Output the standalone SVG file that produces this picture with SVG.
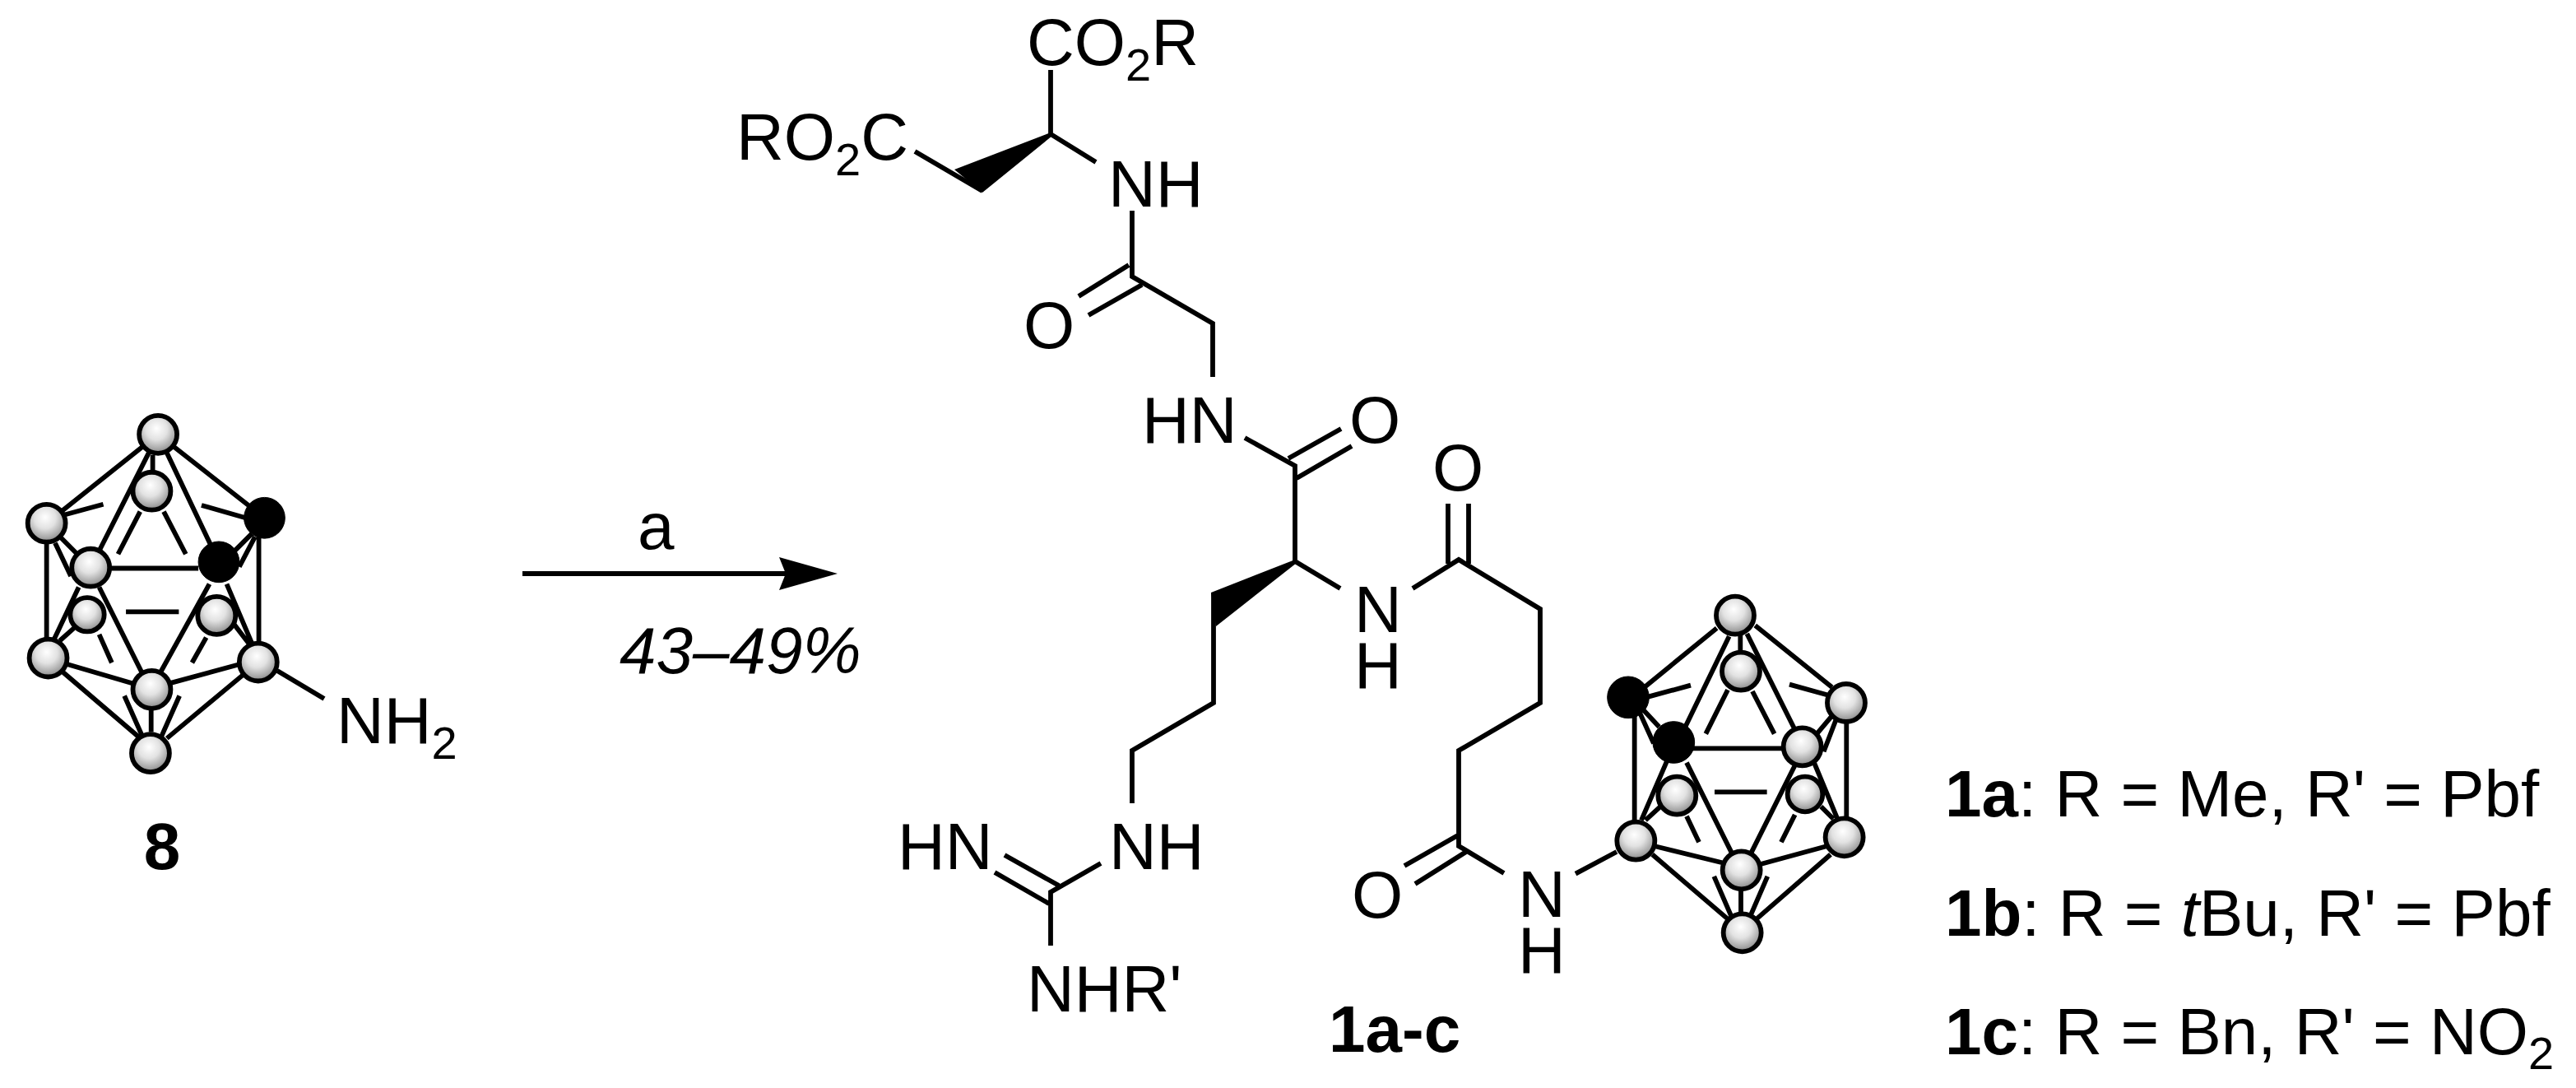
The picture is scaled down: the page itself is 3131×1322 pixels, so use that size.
<svg xmlns="http://www.w3.org/2000/svg" width="3131" height="1322" viewBox="0 0 3131 1322">
<style>
text{font-family:"Liberation Sans",Arial,sans-serif;font-size:80px;fill:#000}
.s{font-size:56px}
.bd{font-weight:700}
.i{font-style:italic}
.b{stroke:#000;stroke-width:5.8;fill:none;vector-effect:non-scaling-stroke;stroke-miterlimit:10}
.g{fill:url(#ball);stroke:#000;stroke-width:5.8;vector-effect:non-scaling-stroke}
.k{fill:#000;stroke:#000;stroke-width:1;vector-effect:non-scaling-stroke}
</style>
<defs>
<radialGradient id="ball" cx=".46" cy=".38" r=".68" fx=".46" fy=".34">
<stop offset="0" stop-color="#fff"/><stop offset=".42" stop-color="#e2e2e2"/><stop offset=".78" stop-color="#a2a2a2"/><stop offset="1" stop-color="#5c5c5c"/>
</radialGradient>
</defs>
<rect width="3131" height="1322" fill="#fff"/>

<g id="compound-8">
<g transform="translate(0,480) scale(.3827)">
<path class="b" d="M205 380L328 347M640 350L780 390M445 370L375 505M520 370L590 505M400 688H568M315 760L355 850M655 770L610 850M395 955L455 1090M570 955L510 1090M485 190V250"/>
<circle class="g" cx="482" cy="305" r="60"/>
<circle class="g" cx="277" cy="697" r="54"/>
<circle class="g" cx="688" cy="700" r="60"/>
<path class="b" d="M502 125L148 407M502 125L840 390M502 125L288 548M502 125L695 530M148 407V835M822 390V848M148 407L288 548M175 470L225 575M800 440L740 500M810 450L760 545M350 550H630M250 610L165 790M190 780L235 740M315 610L450 880M665 600L510 880M720 600L805 800M745 730L795 795M215 855L420 915M540 915L760 855M200 880L440 1085M770 890L530 1090M480 1000V1070"/>
<circle class="g" cx="502" cy="125" r="60"/>
<circle class="g" cx="148" cy="407" r="60"/>
<circle class="k" cx="840" cy="390" r="65"/>
<circle class="g" cx="288" cy="548" r="60"/>
<circle class="k" cx="695" cy="530" r="65"/>
<circle class="g" cx="153" cy="835" r="60"/>
<circle class="g" cx="820" cy="848" r="60"/>
<circle class="g" cx="482" cy="935" r="60"/>
<circle class="g" cx="478" cy="1137" r="60"/>
</g>
<path class="b" d="M337 815L394 849"/>
<text x="409" y="903">NH<tspan class="s" dy="19">2</tspan></text>
<text class="bd" x="197" y="1056" text-anchor="middle">8</text>
</g>

<g id="connectors">
<path class="b" d="M635 697H955"/>
<path d="M1018 697L947 677L955 697L947 717Z" fill="#000"/>
</g>
<g id="conditions">
<text x="775" y="667">a</text>
<text class="i" x="753" y="818">43–49%</text>
</g>

<g id="compound-1a-c">
<g id="bonds">
<path class="b" d="M1277 85V163L1332 197M1112 184L1194 232"/>
<path d="M1277 161L1160 206L1194 234L1279 165Z" fill="#000"/>
<path class="b" d="M1376 256V336L1474 393V458M1372 322L1311 360M1388 346L1323 383"/>
<path class="b" d="M1513 532L1574 566V682M1566 557L1630 521M1576 581L1643 542"/>
<path class="b" d="M1629 715L1574 682"/>
<path d="M1574 680L1472 720L1478 761L1576 684Z" fill="#000"/>
<path class="b" d="M1475 720V854L1376 912V976M1338 1049L1277 1084V1149M1221 1039L1287 1076M1209 1060L1275 1098"/>
<path class="b" d="M1717 715L1773 680L1872 740V854L1773 912V1028L1828 1061M1760 612V685M1785 612V685M1772 1015L1707 1052M1782 1035L1720 1074"/>
</g>
<text x="1248" y="79">CO<tspan class="s" dy="19">2</tspan><tspan dy="-19">R</tspan></text>
<text x="895" y="194">RO<tspan class="s" dy="19">2</tspan><tspan dy="-19">C</tspan></text>
<text x="1347" y="251">NH</text>
<text x="1244" y="423">O</text>
<text x="1388" y="538">HN</text>
<text x="1640" y="538">O</text>
<text x="1741" y="596">O</text>
<text x="1646" y="768">N<tspan x="1646" dy="68">H</tspan></text>
<text x="1348" y="1056">NH</text>
<text x="1091" y="1056">HN</text>
<text x="1248" y="1229">NHR'</text>
<text x="1643" y="1115">O</text>
<text x="1845" y="1114">N<tspan x="1845" dy="68">H</tspan></text>
<text class="bd" x="1615" y="1278">1a-c</text>
<g id="carborane" transform="translate(1880,700) scale(.3333)">
<path class="b" d="M370 440L525 398M885 395L1030 435M660 415L580 575M750 420L830 575M612 787H803M510 875L555 970M905 870L855 970M610 1095L675 1245M805 1095L740 1245M706 205V280"/>
<circle class="g" cx="708" cy="347" r="69"/>
<circle class="g" cx="475" cy="800" r="69"/>
<circle class="g" cx="942" cy="795" r="64"/>
<path class="b" d="M620 190L350 410M760 180L1040 405M665 220L500 560M730 210L910 570M320 500V900M1093 530V890M345 480L410 550M340 500L390 610M1040 510L985 575M1060 510L1010 640M530 628H865M440 670L345 890M510 680L675 1010M905 690L745 1010M975 680L1060 885M1000 840L1045 885M360 890L415 840M395 985L640 1045M780 1050L1020 985M385 1015L660 1250M1035 1015L765 1250M708 1145V1240M255 1005L105 1085"/>
<circle class="g" cx="687" cy="143" r="69"/>
<circle class="k" cx="297" cy="442" r="76"/>
<circle class="g" cx="1092" cy="462" r="69"/>
<circle class="k" cx="463" cy="606" r="76"/>
<circle class="g" cx="932" cy="622" r="69"/>
<circle class="g" cx="325" cy="965" r="69"/>
<circle class="g" cx="1085" cy="952" r="69"/>
<circle class="g" cx="710" cy="1072" r="69"/>
<circle class="g" cx="713" cy="1300" r="69"/>
</g>
</g>

<g id="legend">
<text x="2364" y="992"><tspan class="bd">1a</tspan>: R = Me, R' = Pbf</text>
<text x="2364" y="1137"><tspan class="bd">1b</tspan>: R = <tspan class="i">t</tspan>Bu, R' = Pbf</text>
<text x="2364" y="1281"><tspan class="bd">1c</tspan>: R = Bn, R' = NO<tspan class="s" dy="18">2</tspan></text>
</g>
</svg>
